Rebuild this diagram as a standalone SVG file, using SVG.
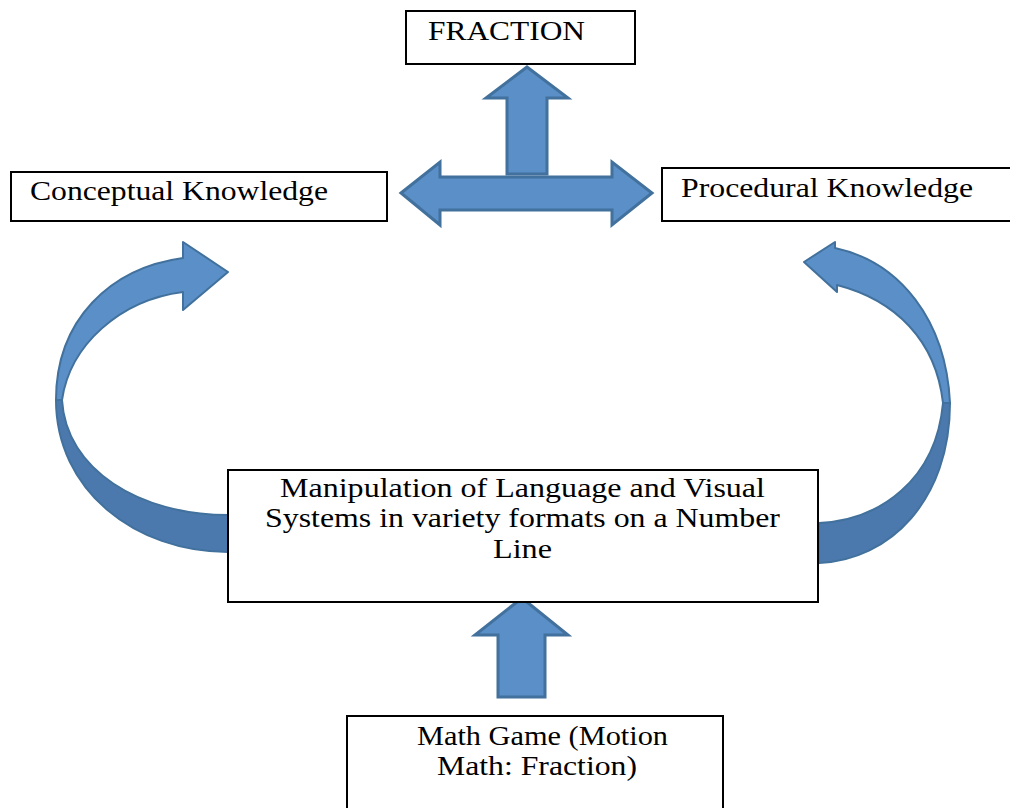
<svg xmlns="http://www.w3.org/2000/svg" width="1010" height="808" viewBox="0 0 1010 808">
<style>
.box{fill:#fff;stroke:#000;stroke-width:2}
.t{font-family:"Liberation Serif","Times New Roman",serif;font-size:28px;fill:#000}
.arw{fill:#5b8fc8;stroke:#41719c;stroke-width:3;stroke-linejoin:miter}
.dark{fill:#4b79ae;stroke:#41719c;stroke-width:2;stroke-linejoin:round}
.light{fill:#5b8fc8;stroke:#41719c;stroke-width:2;stroke-linejoin:round}
</style>
<rect width="1010" height="808" fill="#fff"/>
<g id="connectors">
  <path class="arw" d="M527 67 L568 98 L547 98 L547 174 L507 174 L507 98 L486 98 Z"/>
  <path class="arw" d="M401 193 L440 162 L440 177 L612 177 L612 162 L652 193 L612 225 L612 210 L440 210 L440 225 Z"/>
  <path class="arw" d="M522 598 L568 635 L545 635 L545 697 L498 697 L498 635 L475 635 Z"/>
  <path class="dark" d="M56 400 C56 490 135 552 228 552 L228 515 C140 515 66 470 62 400 Z"/>
  <path class="light" d="M56 400 C56 320 110 268 183 258 L183 242 L228 272 L183 310 L183 292 C120 300 70 345 62 400 Z"/>
  <path class="dark" d="M950 403 C950 500 890 560 819 563 L819 523 C880 520 936 480 943 403 Z"/>
  <path class="light" d="M950 403 C946 320 900 262 835 248 L835 242 L804 262 L837 292 L837 285 C895 300 936 340 943 403 Z"/>
</g>
<g id="fraction">
  <rect class="box" x="406" y="11" width="229" height="53"/>
  <text class="t" x="428" y="40" textLength="157" lengthAdjust="spacingAndGlyphs">FRACTION</text>
</g>
<g id="conceptual">
  <rect class="box" x="11" y="172" width="376" height="49"/>
  <text class="t" x="30" y="200" textLength="298" lengthAdjust="spacingAndGlyphs">Conceptual Knowledge</text>
</g>
<g id="procedural">
  <rect class="box" x="662" y="168" width="360" height="53"/>
  <text class="t" x="681" y="197" textLength="292" lengthAdjust="spacingAndGlyphs">Procedural Knowledge</text>
</g>
<g id="manipulation">
  <rect class="box" x="228" y="470" width="590" height="132"/>
  <text class="t" x="280" y="497" textLength="485" lengthAdjust="spacingAndGlyphs">Manipulation of Language and Visual</text>
  <text class="t" x="265" y="527" textLength="515" lengthAdjust="spacingAndGlyphs">Systems in variety formats on a Number</text>
  <text class="t" x="493" y="558" textLength="59" lengthAdjust="spacingAndGlyphs">Line</text>
</g>
<g id="mathgame">
  <rect class="box" x="347" y="716" width="376" height="110"/>
  <text class="t" x="417" y="745" textLength="251" lengthAdjust="spacingAndGlyphs">Math Game (Motion</text>
  <text class="t" x="437" y="775" textLength="200" lengthAdjust="spacingAndGlyphs">Math: Fraction)</text>
</g>
</svg>
